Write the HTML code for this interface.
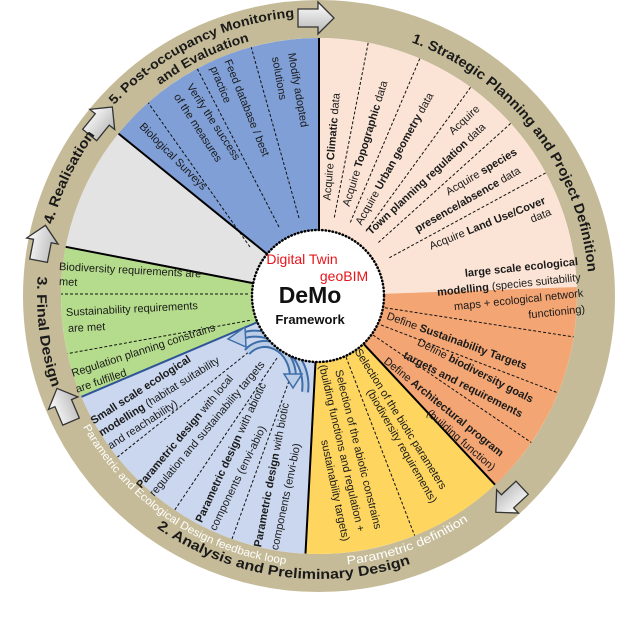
<!DOCTYPE html>
<html><head><meta charset="utf-8"><style>
html,body{margin:0;padding:0;background:#fff;}
svg{display:block;font-family:"Liberation Sans",sans-serif;}
.t{font-size:11px;fill:#1a1a1a;dominant-baseline:central;}
.r{font-weight:bold;fill:#1a1a1a;}
</style></head><body>
<svg width="637" height="636" viewBox="0 0 637 636" xmlns="http://www.w3.org/2000/svg">
<defs>
<clipPath id="cc"><circle cx="319" cy="296" r="258"/></clipPath>
<linearGradient id="ag" x1="0" y1="0" x2="0" y2="1"><stop offset="0" stop-color="#ffffff"/><stop offset="1" stop-color="#b5b5b5"/></linearGradient>
<path id="p1" d="M411.3 42.3 A270 270 0 0 1 588 272.5"/>
<path id="p5a" d="M114.2 105 A280 280 0 0 1 299.5 16.7"/>
<path id="p5b" d="M160.1 85.2 A264 264 0 0 1 255 40"/>
<path id="p4" d="M52.4 224.6 A276 276 0 0 1 95.7 133.8"/>
<path id="p3" d="M37.7 276.3 A282 282 0 0 0 52.4 387.8"/>
<path id="p2" d="M156.7 527.8 A283 283 0 0 0 411.1 563.6"/>
<path id="p2a" d="M82.9 426.9 A270 270 0 0 0 286.1 564"/>
<path id="p2b" d="M347.2 564.5 A270 270 0 0 0 470 519.8"/>
</defs>
<circle cx="319" cy="296" r="277" fill="none" stroke="#c6bb98" stroke-width="38"/>
<path d="M319 296 L118.5 133.6 A258 258 0 0 1 319 38 Z" fill="#7f9fd6"/>
<path d="M319 296 L319 38 A258 258 0 0 1 576.8 287 Z" fill="#fbe4d5"/>
<path d="M319 296 L576.8 287 A258 258 0 0 1 495 484.7 Z" fill="#f3a674"/>
<path d="M319 296 L495 484.7 A258 258 0 0 1 305.5 553.6 Z" fill="#fdd55f"/>
<path d="M319 296 L305.5 553.6 A258 258 0 0 1 81.5 396.8 Z" fill="#cad7ef"/>
<path d="M319 296 L81.5 396.8 A258 258 0 0 1 65.7 246.8 Z" fill="#b5dc8c"/>
<path d="M319 296 L65.7 246.8 A258 258 0 0 1 118.5 133.6 Z" fill="#e3e3e3"/>
<g clip-path="url(#cc)" stroke="#111" stroke-width="1" stroke-dasharray="3,2" fill="none">
<line x1="334.3" y1="217.5" x2="368.2" y2="42.7"/>
<line x1="350.3" y1="222.4" x2="419.8" y2="58.5"/>
<line x1="366" y1="231.3" x2="470.6" y2="87.3"/>
<line x1="378.4" y1="242.5" x2="510.7" y2="123.4"/>
<line x1="389.3" y1="257.8" x2="545.7" y2="172.9"/>
<line x1="380" y1="307" x2="600" y2="341"/>
<line x1="381" y1="325" x2="600" y2="409"/>
<line x1="373" y1="335" x2="560" y2="462"/>
<line x1="346" y1="357" x2="424" y2="560"/>
<line x1="260" y1="343" x2="105" y2="467"/>
<line x1="277" y1="358" x2="170" y2="517"/>
<line x1="294" y1="367" x2="228" y2="550"/>
<line x1="250" y1="247" x2="135" y2="84"/>
<line x1="279" y1="227" x2="185" y2="45"/>
<line x1="299" y1="218" x2="245" y2="25"/>
<line x1="50" y1="294" x2="250" y2="294"/>
<line x1="60" y1="355" x2="252" y2="320"/>
</g>
<g stroke="#000" stroke-width="2">
<line x1="319" y1="230" x2="319" y2="38"/>
<line x1="364" y1="344.3" x2="495" y2="484.7"/>
<line x1="315.5" y1="361.9" x2="305.5" y2="553.6"/>
<line x1="254.2" y1="283.4" x2="65.7" y2="246.8"/>
<line x1="267.7" y1="254.5" x2="118.5" y2="133.6"/>
</g>
<line x1="258.2" y1="321.8" x2="81.5" y2="396.8" stroke="#2f5597" stroke-width="2"/>
<g class="t">
<text x="327.4" y="200.4" transform="rotate(-85 327.4 200.4)">Acquire <tspan font-weight="bold">Climatic</tspan> data</text>
<text x="346.5" y="206.1" transform="rotate(-73 346.5 206.1)">Acquire <tspan font-weight="bold">Topographic</tspan> data</text>
<text x="358.8" y="224.3" transform="rotate(-61 358.8 224.3)">Acquire <tspan font-weight="bold">Urban geometry</tspan> data</text>
<text x="451" y="133" transform="rotate(-43 451 133)">Acquire</text>
<text x="369" y="233" transform="rotate(-43 369 233)"><tspan font-weight="bold">Town planning regulation</tspan> data</text>
<text x="447" y="193" transform="rotate(-31 447 193)">Acquire <tspan font-weight="bold">species</tspan></text>
<text x="416" y="230" transform="rotate(-30 416 230)"><tspan font-weight="bold">presence/absence</tspan> data</text>
<text x="430" y="247" transform="rotate(-22 430 247)">Acquire <tspan font-weight="bold">Land Use/Cover</tspan></text>
<text x="531" y="220" transform="rotate(-22 531 220)">data</text>
<g transform="translate(578 262) rotate(-6)" text-anchor="end">
<text x="0" y="0" font-weight="bold">large scale ecological</text>
<text x="1" y="16"><tspan font-weight="bold">modelling</tspan> (species suitability</text>
<text x="2" y="32">maps + ecological network</text>
<text x="2" y="48">functioning)</text>
</g>
<text x="387" y="316" transform="rotate(20 387 316)">Define <tspan font-weight="bold">Sustainability Targets</tspan></text>
<text x="418" y="342" transform="rotate(27 418 342)">Define <tspan font-weight="bold">biodiversity goals</tspan></text>
<text x="404" y="355" transform="rotate(27 404 355)" font-weight="bold">targets and requirements</text>
<text x="385" y="360" transform="rotate(39 385 360)">Define <tspan font-weight="bold">Architectural program</tspan></text>
<text x="428" y="412" transform="rotate(41 428 412)">(building function)</text>
<text x="357" y="350" transform="rotate(58 357 350)">Selection of the biotic parameters</text>
<text x="369" y="390" transform="rotate(60 369 390)">(biodiversity requirements)</text>
<text x="338" y="370" transform="rotate(76 338 370)">Selection of the abiotic constrains</text>
<text x="322" y="365" transform="rotate(77 322 365)">(building functions and regulation +</text>
<text x="324" y="440" transform="rotate(78 324 440)">sustainability targets)</text>
<text x="92" y="422" transform="rotate(-33 92 422)" font-weight="bold">Small scale ecological</text>
<text x="100" y="434" transform="rotate(-32 100 434)"><tspan font-weight="bold">modelling</tspan> (habitat suitability</text>
<text x="109" y="447" transform="rotate(-33 109 447)">and reachability)</text>
<text x="139" y="487" transform="rotate(-50 139 487)"><tspan font-weight="bold">Parametric design</tspan> with local</text>
<text x="152" y="495" transform="rotate(-50 152 495)">regulation and sustainability targets</text>
<text x="199" y="522" transform="rotate(-65 199 522)"><tspan font-weight="bold">Parametric design</tspan> with abiotic</text>
<text x="213" y="530" transform="rotate(-64 213 530)">components (envi-abio)</text>
<text x="258" y="547" transform="rotate(-79 258 547)"><tspan font-weight="bold">Parametric design</tspan> with biotic</text>
<text x="275" y="550" transform="rotate(-78 275 550)">components (envi-bio)</text>
<text x="59" y="267" transform="rotate(3 59 267)">Biodiversity requirements are</text>
<text x="59" y="282" transform="rotate(3 59 282)">met</text>
<text x="66" y="313" transform="rotate(-3 66 313)">Sustainability requirements</text>
<text x="68" y="329" transform="rotate(-3 68 329)">are met</text>
<text x="72" y="374" transform="rotate(-18 72 374)">Regulation planning constrains</text>
<text x="76" y="390" transform="rotate(-19 76 390)">are fulfilled</text>
<text x="141" y="125" transform="rotate(45 141 125)">Biological Surveys</text>
<text x="189" y="85" transform="rotate(57 189 85)">Verify the success</text>
<text x="176" y="95" transform="rotate(57 176 95)">of the measures</text>
<text x="227" y="60" transform="rotate(68 227 60)">Feed database / best</text>
<text x="213" y="67" transform="rotate(68 213 67)">practice</text>
<text x="291" y="53" transform="rotate(80 291 53)">Modify adopted</text>
<text x="275" y="57" transform="rotate(80 275 57)">solutions</text>
</g>
<g fill="none">
<path d="M305 392 C310 355 272 325 242 336" stroke="#3e6ea8" stroke-width="8"/>
<path d="M305 392 C310 355 272 325 242 336" stroke="#bccde8" stroke-width="4"/>
<path d="M247 352 C264 334 292 348 293 376" stroke="#3e6ea8" stroke-width="8"/>
<path d="M247 352 C264 334 292 348 293 376" stroke="#bccde8" stroke-width="4"/>
</g>
<polygon points="228,339 245,327 246,347" fill="#bccde8" stroke="#3e6ea8" stroke-width="1.5"/>
<polygon points="293,388 284,374 302,374" fill="#bccde8" stroke="#3e6ea8" stroke-width="1.5"/>
<circle cx="318" cy="296" r="66" fill="#fff" stroke="#000" stroke-width="2.5" stroke-dasharray="0.5,3" stroke-linecap="round"/>
<text x="302" y="264" font-size="14" fill="#e8141a" text-anchor="middle">Digital Twin</text>
<text x="344" y="281" font-size="14" fill="#e8141a" text-anchor="middle">geoBIM</text>
<text x="310" y="303" font-size="23" font-weight="bold" fill="#111" text-anchor="middle">DeMo</text>
<text x="310" y="324" font-size="13" font-weight="bold" fill="#111" text-anchor="middle">Framework</text>
<g fill="url(#ag)" stroke="#333" stroke-width="1.3">
<polygon transform="translate(316 18) rotate(0)" points="-18,-9 2,-9 2,-16 18,0 2,16 2,9 -18,9"/>
<polygon transform="translate(509 500) rotate(137)" points="-18,-9 2,-9 2,-16 18,0 2,16 2,9 -18,9"/>
<polygon transform="translate(64 405) rotate(247)" points="-18,-9 2,-9 2,-16 18,0 2,16 2,9 -18,9"/>
<polygon transform="translate(42 243) rotate(281)" points="-18,-9 2,-9 2,-16 18,0 2,16 2,9 -18,9"/>
<polygon transform="translate(101 121) rotate(309)" points="-18,-9 2,-9 2,-16 18,0 2,16 2,9 -18,9"/>
</g>
<text class="r" font-size="14"><textPath href="#p1" textLength="306" lengthAdjust="spacingAndGlyphs">1. Strategic Planning and Project Definition</textPath></text>
<text class="r" font-size="13"><textPath href="#p5a" textLength="205" lengthAdjust="spacingAndGlyphs">5. Post-occupancy Monitoring</textPath></text>
<text class="r" font-size="13"><textPath href="#p5b" textLength="100" lengthAdjust="spacingAndGlyphs">and Evaluation</textPath></text>
<text class="r" font-size="14"><textPath href="#p4" textLength="100" lengthAdjust="spacingAndGlyphs">4. Realisation</textPath></text>
<text class="r" font-size="14"><textPath href="#p3" textLength="113" lengthAdjust="spacingAndGlyphs">3. Final Design</textPath></text>
<text class="r" font-size="14"><textPath href="#p2" textLength="266" lengthAdjust="spacingAndGlyphs">2. Analysis and Preliminary Design</textPath></text>
<text font-size="11" fill="#fff"><textPath href="#p2a" textLength="254" lengthAdjust="spacingAndGlyphs">Parametric and Ecological Design feedback loop</textPath></text>
<text font-size="12" fill="#fff"><textPath href="#p2b" textLength="130" lengthAdjust="spacingAndGlyphs">Parametric definition</textPath></text>
</svg>
</body></html>
